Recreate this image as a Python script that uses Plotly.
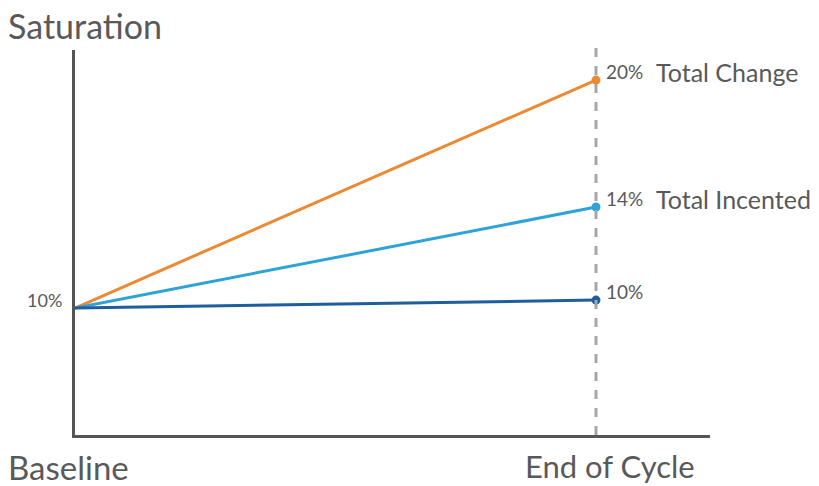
import plotly.graph_objects as go

x_pos = [0, 1]
x_names = ["Baseline", "End of Cycle"]
series_names = ["Total Change", "Total Incented", "Other"]
start_values = [10, 10, 10]
end_values = [20, 14.43, 10.35]
end_labels = ["20%", "14%", "10%"]
label_suffix = ["Total Change", "Total Incented", ""]
colors = ["#EB8A33", "#2EA3D8", "#1F5E9E"]
baseline_label = "10%"

FONT = "Lato"
GREY = "#595959"

fig = go.Figure()
for name, s, e, c in zip(series_names, start_values, end_values, colors):
    fig.add_trace(go.Scatter(x=x_pos, y=[s, e], mode="lines", line=dict(color=c, width=3),
                             name=name, showlegend=False, hoverinfo="skip"))
    fig.add_trace(go.Scatter(x=[x_pos[1]], y=[e], mode="markers", marker=dict(color=c, size=9),
                             showlegend=False, hoverinfo="skip"))

# dashed vertical line at end of cycle
fig.add_shape(type="line", xref="x", yref="paper", x0=x_pos[1], x1=x_pos[1], y0=0, y1=1.013,
              line=dict(color="#A6A6A6", width=3, dash="dash"))

for e, lab, suf in zip(end_values, end_labels, label_suffix):
    fig.add_annotation(x=x_pos[1], y=e, xref="x", yref="y", text=lab, showarrow=False,
                       xanchor="left", yanchor="bottom", xshift=8, yshift=-5,
                       font=dict(family=FONT, size=19, color=GREY))
    if suf:
        fig.add_annotation(x=x_pos[1], y=e, xref="x", yref="y", text=suf, showarrow=False,
                           xanchor="left", yanchor="bottom", xshift=58, yshift=-9,
                           font=dict(family=FONT, size=25, color=GREY))

fig.add_annotation(x=0, y=start_values[0], xref="paper", yref="y", text=baseline_label, showarrow=False,
                   xanchor="right", yanchor="middle", xshift=-11, yshift=8,
                   font=dict(family=FONT, size=18, color=GREY))

fig.add_annotation(x=0, y=1, xref="paper", yref="paper", text="Saturation", showarrow=False,
                   xanchor="left", yanchor="bottom", xshift=-69, yshift=2,
                   font=dict(family=FONT, size=34, color=GREY))
fig.add_annotation(x=0, y=0, xref="paper", yref="paper", text=x_names[0], showarrow=False,
                   xanchor="left", yanchor="top", xshift=-69, yshift=-10,
                   font=dict(family=FONT, size=33, color=GREY))
fig.add_annotation(x=x_pos[1], y=0, xref="x", yref="paper", text=x_names[1], showarrow=False,
                   xanchor="center", yanchor="top", xshift=14, yshift=-10,
                   font=dict(family=FONT, size=31, color=GREY))

fig.update_xaxes(range=[0, 635 / 521], showgrid=False, zeroline=False, showticklabels=False,
                 showline=True, linecolor="#555555", linewidth=3, ticks="")
fig.update_yaxes(range=[4.43, 21.32], showgrid=False, zeroline=False, showticklabels=False,
                 showline=True, linecolor="#555555", linewidth=3, ticks="")

fig.update_layout(width=819, height=486, margin=dict(l=75, r=109, t=50, b=51),
                  plot_bgcolor="white", paper_bgcolor="white")

fig.write_html("out.html")
